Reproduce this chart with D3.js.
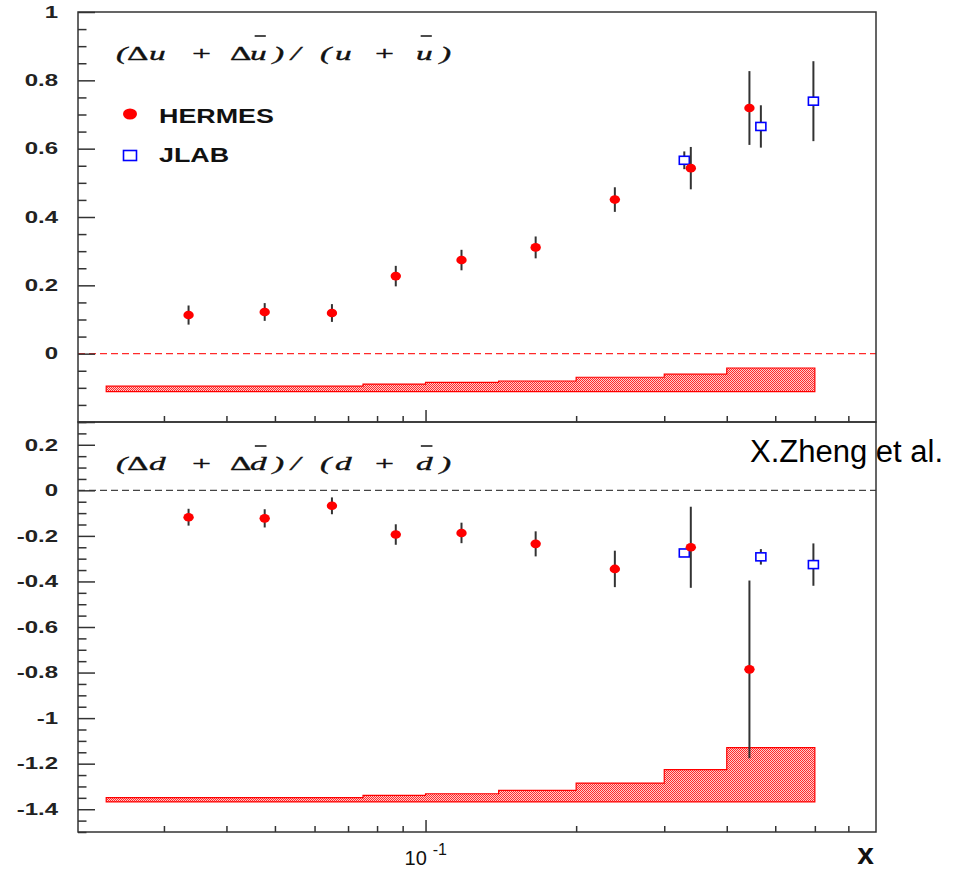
<!DOCTYPE html>
<html>
<head>
<meta charset="utf-8">
<script src="https://cdn.jsdelivr.net/npm/d3@7"></script>
<style>
  html, body { margin: 0; padding: 0; background: #fff; }
  svg { display: block; }
  .tick line { stroke: #333; stroke-width: 1.5; }
  .domain { display: none; }
</style>
</head>
<body>
<svg id="chart" width="956" height="870"></svg>
<script>
// x positions (Bjorken x) of the measured bins
const hermesX = [0.0336, 0.0477, 0.0650, 0.0872, 0.118, 0.166, 0.239, 0.339, 0.444];
const jlabX   = [0.329, 0.468, 0.596];

// (Δu + Δū)/(u + ū)
const uHermes    = [0.113, 0.122, 0.119, 0.227, 0.274, 0.311, 0.451, 0.543, 0.719];
const uHermesErr = [0.028, 0.026, 0.026, 0.030, 0.030, 0.032, 0.036, 0.062, 0.108];
const uJlab      = [0.566, 0.665, 0.739];
const uJlabErr   = [0.026, 0.062, 0.117];

// (Δd + Δd̄)/(d + d̄)
const dHermes    = [-0.118, -0.123, -0.068, -0.194, -0.187, -0.235, -0.345, -0.250, -0.786];
const dHermesErr = [0.037, 0.040, 0.037, 0.045, 0.045, 0.055, 0.080, 0.178, 0.390];
const dJlab      = [-0.275, -0.292, -0.326];
const dJlabErr   = [0.015, 0.034, 0.093];

// systematic uncertainty bands (histograms drawn from a baseline)
const sysEdges = [0.023, 0.04, 0.055, 0.075, 0.1, 0.14, 0.2, 0.3, 0.4, 0.6];
const uSysBase = -0.111;
const uSys     = [0.016, 0.016, 0.016, 0.022, 0.027, 0.031, 0.042, 0.051, 0.069];
const dSysBase = -1.368;
const dSys     = [0.019, 0.019, 0.019, 0.029, 0.036, 0.051, 0.083, 0.142, 0.238];

// axis ticks
const xMinorTicks = [0.03, 0.04, 0.05, 0.06, 0.07, 0.08, 0.09, 0.2, 0.3, 0.4, 0.5, 0.6, 0.7];
const xMajorTicks = [0.1];
const uMajorTicks = [0, 0.2, 0.4, 0.6, 0.8, 1];
const dMajorTicks = [-1.4, -1.2, -1, -0.8, -0.6, -0.4, -0.2, 0, 0.2];

const legendNames = ["HERMES", "JLAB"];

const svg = d3.select("#chart");

const padL = 78, padR = 876, padT = 12, padM = 422, padB = 832;

const x = d3.scaleLog().domain([0.0202, 0.795]).range([padL, padR]);
const yU = d3.scaleLinear().domain([-0.2, 1]).range([padM, padT]);
const yD = d3.scaleLinear().domain([-1.5, 0.3]).range([padB, padM]);

// fine cross-hatch fill for the bands
const defs = svg.append("defs");
const pat = defs.append("pattern").attr("id", "hatch")
  .attr("width", 2).attr("height", 2).attr("patternUnits", "userSpaceOnUse");
pat.append("rect").attr("width", 2).attr("height", 2).attr("fill", "#ffcccc");
pat.append("rect").attr("x", 0).attr("y", 0).attr("width", 1).attr("height", 1).attr("fill", "#ff2a2a");
pat.append("rect").attr("x", 1).attr("y", 1).attr("width", 1).attr("height", 1).attr("fill", "#ff2a2a");

const sans = "'Liberation Sans', Arial, Helvetica, sans-serif";
const serif = "'Liberation Serif', 'Times New Roman', serif";

function fmt(v) { return String(+v.toFixed(1)); }

function drawYAxis(y, labelled, lo, hi) {
  const n = Math.round((hi - lo) / 0.05);
  const all = d3.range(0, n + 1).map(i => Math.round((lo + i * 0.05) * 100) / 100);
  const isMajor = v => Math.abs(Math.round(v / 0.2) * 0.2 - v) < 1e-6;
  svg.append("g").attr("transform", `translate(${padL},0)`)
    .call(d3.axisLeft(y).tickValues(all.filter(v => !isMajor(v)))
      .tickSizeInner(-8.5).tickSizeOuter(0).tickFormat(""));
  svg.append("g").attr("transform", `translate(${padL},0)`)
    .call(d3.axisLeft(y).tickValues(all.filter(isMajor))
      .tickSizeInner(-17).tickSizeOuter(0).tickFormat(""));
  // tick labels, bold and widened
  svg.append("g").selectAll("text").data(labelled).join("text")
    .attr("transform", d => `translate(${padL - 20},${y(d)}) scale(1.5,1)`)
    .attr("text-anchor", "end")
    .attr("dy", "0.36em")
    .style("font-family", sans)
    .style("font-weight", "bold")
    .style("font-size", "16px")
    .attr("fill", "#222")
    .text(fmt);
}

function drawXTicks(yPos) {
  svg.append("g").attr("transform", `translate(0,${yPos})`)
    .call(d3.axisTop(x).tickValues(xMinorTicks).tickSizeInner(6).tickSizeOuter(0).tickFormat(""));
  svg.append("g").attr("transform", `translate(0,${yPos})`)
    .call(d3.axisTop(x).tickValues(xMajorTicks).tickSizeInner(12).tickSizeOuter(0).tickFormat(""));
}

function drawBand(y, base, heights) {
  const pts = heights.map((h, i) => [sysEdges[i], base + h]);
  pts.push([sysEdges[sysEdges.length - 1], base + heights[heights.length - 1]]);
  const area = d3.area()
    .x(d => x(d[0])).y0(y(base)).y1(d => y(d[1]))
    .curve(d3.curveStepAfter);
  svg.append("path").attr("d", area(pts))
    .attr("fill", "url(#hatch)")
    .attr("stroke", "#ff0000").attr("stroke-width", 1.2);
}

function drawPoints(y, xs, vals, errs, kind) {
  const g = svg.append("g");
  g.selectAll("line").data(vals).join("line")
    .attr("x1", (d, i) => x(xs[i])).attr("x2", (d, i) => x(xs[i]))
    .attr("y1", (d, i) => y(d + errs[i])).attr("y2", (d, i) => y(d - errs[i]))
    .attr("stroke", "#333").attr("stroke-width", 2);
  if (kind === "circle") {
    g.selectAll("ellipse").data(vals).join("ellipse")
      .attr("cx", (d, i) => x(xs[i])).attr("cy", d => y(d))
      .attr("rx", 5.2).attr("ry", 4.3).attr("fill", "#ff0000");
  } else {
    g.selectAll("rect").data(vals).join("rect")
      .attr("x", (d, i) => x(xs[i]) - 5).attr("y", d => y(d) - 4)
      .attr("width", 10).attr("height", 8)
      .attr("fill", "#fff").attr("stroke", "#0000ff").attr("stroke-width", 1.6);
  }
}

// ratio label (Δq + Δq̄)/(q + q̄), set token by token in a widened italic serif
function drawFormula(x0, baseline, letter) {
  const tokens = [
    { s: "(", dx: 0 },
    { s: "\u0394", dx: 11, upright: true },
    { s: letter, dx: 33 },
    { s: "+", dx: 74 },
    { s: "\u0394", dx: 114, upright: true },
    { s: letter, dx: 134, bar: true },
    { s: ")", dx: 157 },
    { s: "/", dx: 175 },
    { s: "(", dx: 204 },
    { s: letter, dx: 219 },
    { s: "+", dx: 257 },
    { s: letter, dx: 300, bar: true },
    { s: ")", dx: 324 }
  ];
  const sx = 1.8;
  tokens.forEach(tk => {
    const g = svg.append("g").attr("transform", `translate(${x0 + tk.dx},${baseline}) scale(${sx},1)`);
    const t = g.append("text")
      .style("font-family", serif)
      .style("font-style", tk.upright ? "normal" : "italic")
      .style("font-size", "18.5px")
      .attr("fill", "#111")
      .attr("stroke", "#111").attr("stroke-width", 0.35)
      .text(tk.s);
    if (tk.bar) {
      const bb = t.node().getBBox();
      g.append("line")
        .attr("x1", bb.x + bb.width * 0.28).attr("x2", bb.x + bb.width * 0.95)
        .attr("y1", -23.5).attr("y2", -23.5)
        .attr("stroke", "#111").attr("stroke-width", 1.5)
        .attr("vector-effect", "non-scaling-stroke");
    }
  });
}

// ---- top panel: u quarks ----
drawBand(yU, uSysBase, uSys);
svg.append("line").attr("x1", padL).attr("x2", padR)
  .attr("y1", yU(0)).attr("y2", yU(0))
  .attr("stroke", "#ff2a2a").attr("stroke-width", 1.4).attr("stroke-dasharray", "7,4");
drawPoints(yU, jlabX, uJlab, uJlabErr, "square");
drawPoints(yU, hermesX, uHermes, uHermesErr, "circle");
drawYAxis(yU, uMajorTicks, -0.2, 1);
drawXTicks(padM);
drawFormula(116, 59.5, "u");

// legend
svg.append("ellipse").attr("cx", 130).attr("cy", 114).attr("rx", 7).attr("ry", 5.5).attr("fill", "#ff0000");
svg.append("rect").attr("x", 123.5).attr("y", 150.5).attr("width", 13).attr("height", 10)
  .attr("fill", "#fff").attr("stroke", "#0000ff").attr("stroke-width", 1.6);
legendNames.forEach((name, i) => {
  svg.append("text")
    .attr("transform", `translate(159,${i === 0 ? 122.5 : 162}) scale(1.28,1)`)
    .style("font-family", sans)
    .style("font-weight", "bold").style("font-size", "21px")
    .attr("fill", "#111").text(name);
});

// ---- bottom panel: d quarks ----
drawBand(yD, dSysBase, dSys);
svg.append("line").attr("x1", padL).attr("x2", padR)
  .attr("y1", yD(0)).attr("y2", yD(0))
  .attr("stroke", "#444").attr("stroke-width", 1.3).attr("stroke-dasharray", "7,4");
drawPoints(yD, jlabX, dJlab, dJlabErr, "square");
drawPoints(yD, hermesX, dHermes, dHermesErr, "circle");
drawYAxis(yD, dMajorTicks, -1.5, 0.3);
drawXTicks(padB);
drawFormula(116, 469.5, "d");

// frames
svg.append("rect").attr("x", padL).attr("y", padT).attr("width", padR - padL).attr("height", padM - padT)
  .attr("fill", "none").attr("stroke", "#333").attr("stroke-width", 1.5);
svg.append("rect").attr("x", padL).attr("y", padM).attr("width", padR - padL).attr("height", padB - padM)
  .attr("fill", "none").attr("stroke", "#333").attr("stroke-width", 1.5);

// x axis labels
const xl = svg.append("text")
  .attr("x", x(0.1) - 21).attr("y", 865)
  .style("font-family", sans)
  .attr("fill", "#111");
xl.append("tspan").style("font-size", "20px").text("10");
xl.append("tspan").attr("dx", 6).attr("dy", -10).style("font-size", "16px").text("-1");

svg.append("text").attr("x", 874).attr("y", 864).attr("text-anchor", "end")
  .style("font-family", sans)
  .style("font-weight", "bold").style("font-size", "30px")
  .attr("fill", "#111").text("x");

// attribution
svg.append("text").attr("x", 750).attr("y", 461.5)
  .style("font-family", sans)
  .style("font-size", "31px").attr("fill", "#000")
  .text("X.Zheng et al.");
</script>
</body>
</html>
